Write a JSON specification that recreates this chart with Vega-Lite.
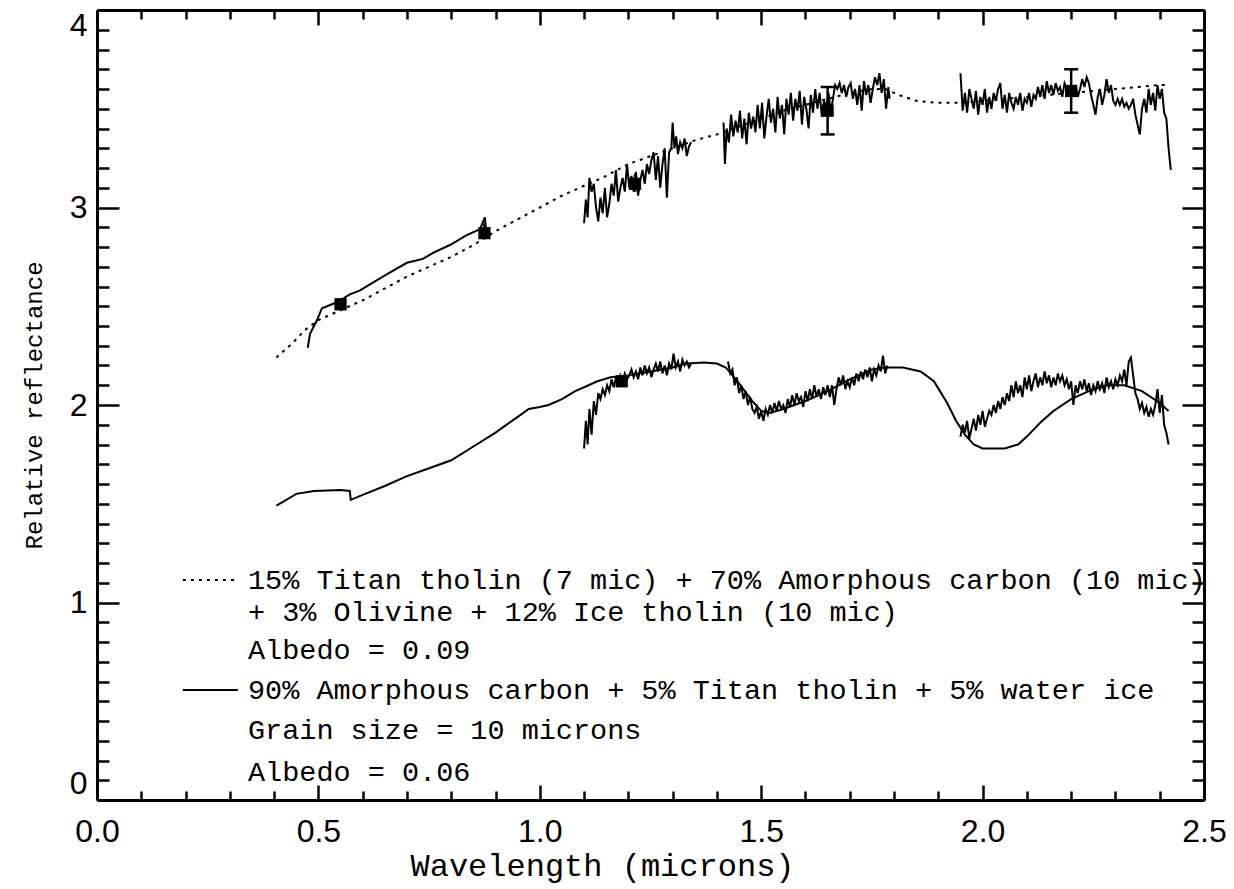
{
"$schema": "https://vega.github.io/schema/vega-lite/v6.json",
"width": 1107, "height": 790,
"autosize": {"type": "none"},
"padding": {"left": 97, "top": 10, "right": 30, "bottom": 89},
"background": "white",
"config": {"view": {"stroke": null}},
"datasets": {
"model1": [
{"x":0.405,"y":2.24},{"x":0.44,"y":2.31},{"x":0.47,"y":2.38},{"x":0.5,"y":2.43},{"x":0.55,"y":2.48},{"x":0.6,"y":2.53},{"x":0.65,"y":2.59},{"x":0.7,"y":2.65},{"x":0.75,"y":2.7},{"x":0.8,"y":2.75},{"x":0.85,"y":2.81},{"x":0.9,"y":2.88},{"x":0.95,"y":2.94},{"x":1.0,"y":3.0},{"x":1.05,"y":3.06},{"x":1.1,"y":3.11},{"x":1.15,"y":3.16},{"x":1.2,"y":3.22},{"x":1.25,"y":3.26},{"x":1.3,"y":3.3},{"x":1.35,"y":3.34},{"x":1.4,"y":3.37},{"x":1.45,"y":3.41},{"x":1.5,"y":3.45},{"x":1.55,"y":3.49},{"x":1.6,"y":3.52},{"x":1.65,"y":3.55},{"x":1.7,"y":3.58},{"x":1.75,"y":3.6},{"x":1.78,"y":3.6},{"x":1.81,"y":3.57},{"x":1.85,"y":3.54},{"x":1.9,"y":3.53},{"x":1.95,"y":3.53},{"x":2.0,"y":3.54},{"x":2.05,"y":3.55},{"x":2.1,"y":3.56},{"x":2.15,"y":3.57},{"x":2.2,"y":3.58},{"x":2.25,"y":3.59},{"x":2.3,"y":3.6},{"x":2.35,"y":3.61},{"x":2.4,"y":3.62},{"x":2.42,"y":3.62}
],
"model2": [
{"x":0.405,"y":1.49},{"x":0.42,"y":1.51},{"x":0.45,"y":1.55},{"x":0.49,"y":1.565},{"x":0.55,"y":1.57},{"x":0.571,"y":1.565},{"x":0.573,"y":1.52},{"x":0.6,"y":1.545},{"x":0.65,"y":1.59},{"x":0.7,"y":1.64},{"x":0.75,"y":1.68},{"x":0.8,"y":1.72},{"x":0.85,"y":1.79},{"x":0.9,"y":1.86},{"x":0.95,"y":1.94},{"x":0.975,"y":1.98},{"x":1.0,"y":1.99},{"x":1.02,"y":2.0},{"x":1.05,"y":2.03},{"x":1.08,"y":2.07},{"x":1.1,"y":2.09},{"x":1.13,"y":2.12},{"x":1.16,"y":2.14},{"x":1.2,"y":2.15},{"x":1.25,"y":2.17},{"x":1.3,"y":2.19},{"x":1.33,"y":2.21},{"x":1.37,"y":2.215},{"x":1.4,"y":2.21},{"x":1.42,"y":2.19},{"x":1.45,"y":2.11},{"x":1.48,"y":2.02},{"x":1.5,"y":1.97},{"x":1.52,"y":1.96},{"x":1.55,"y":1.98},{"x":1.6,"y":2.02},{"x":1.65,"y":2.07},{"x":1.7,"y":2.13},{"x":1.75,"y":2.18},{"x":1.78,"y":2.19},{"x":1.82,"y":2.19},{"x":1.86,"y":2.17},{"x":1.89,"y":2.12},{"x":1.92,"y":2.01},{"x":1.94,"y":1.92},{"x":1.96,"y":1.85},{"x":1.98,"y":1.8},{"x":2.0,"y":1.78},{"x":2.05,"y":1.78},{"x":2.08,"y":1.8},{"x":2.1,"y":1.84},{"x":2.13,"y":1.91},{"x":2.16,"y":1.97},{"x":2.2,"y":2.03},{"x":2.24,"y":2.07},{"x":2.28,"y":2.1},{"x":2.32,"y":2.1},{"x":2.36,"y":2.07},{"x":2.4,"y":2.01},{"x":2.42,"y":1.97}
],
"top": [
{"s":"a","x":0.476,"y":2.29},{"s":"a","x":0.481,"y":2.36},{"s":"a","x":0.497,"y":2.43},{"s":"a","x":0.508,"y":2.49},{"s":"a","x":0.542,"y":2.52},{"s":"a","x":0.571,"y":2.56},{"s":"a","x":0.594,"y":2.58},{"s":"a","x":0.623,"y":2.62},{"s":"a","x":0.661,"y":2.67},{"s":"a","x":0.7,"y":2.72},{"s":"a","x":0.736,"y":2.74},{"s":"a","x":0.759,"y":2.77},{"s":"a","x":0.797,"y":2.81},{"s":"a","x":0.835,"y":2.86},{"s":"a","x":0.865,"y":2.89},{"s":"a","x":0.876,"y":2.95},{"s":"a","x":0.88,"y":2.85},
{"s":"b","x":1.1,"y":2.92},{"s":"b","x":1.104,"y":3.04},{"s":"b","x":1.108,"y":2.95},{"s":"b","x":1.112,"y":3.15},{"s":"b","x":1.117,"y":3.08},{"s":"b","x":1.122,"y":3.12},{"s":"b","x":1.127,"y":3.0},{"s":"b","x":1.132,"y":2.93},{"s":"b","x":1.137,"y":3.05},{"s":"b","x":1.142,"y":2.97},{"s":"b","x":1.147,"y":3.1},{"s":"b","x":1.152,"y":2.95},{"s":"b","x":1.157,"y":3.02},{"s":"b","x":1.162,"y":3.12},{"s":"b","x":1.167,"y":3.06},{"s":"b","x":1.172,"y":3.19},{"s":"b","x":1.177,"y":3.03},{"s":"b","x":1.182,"y":3.1},{"s":"b","x":1.187,"y":3.15},{"s":"b","x":1.192,"y":3.08},{"s":"b","x":1.197,"y":3.22},{"s":"b","x":1.202,"y":3.1},{"s":"b","x":1.207,"y":3.16},{"s":"b","x":1.212,"y":3.08},{"s":"b","x":1.217,"y":3.18},{"s":"b","x":1.222,"y":3.06},{"s":"b","x":1.227,"y":3.14},{"s":"b","x":1.232,"y":3.19},{"s":"b","x":1.237,"y":3.12},{"s":"b","x":1.242,"y":3.22},{"s":"b","x":1.247,"y":3.17},{"s":"b","x":1.252,"y":3.24},{"s":"b","x":1.257,"y":3.28},{"s":"b","x":1.262,"y":3.14},{"s":"b","x":1.267,"y":3.26},{"s":"b","x":1.272,"y":3.1},{"s":"b","x":1.277,"y":3.22},{"s":"b","x":1.282,"y":3.3},{"s":"b","x":1.287,"y":3.05},{"s":"b","x":1.292,"y":3.28},{"s":"b","x":1.297,"y":3.3},{"s":"b","x":1.3,"y":3.43},{"s":"b","x":1.304,"y":3.3},{"s":"b","x":1.308,"y":3.36},{"s":"b","x":1.312,"y":3.27},{"s":"b","x":1.317,"y":3.33},{"s":"b","x":1.322,"y":3.3},{"s":"b","x":1.327,"y":3.35},{"s":"b","x":1.332,"y":3.26},{"s":"b","x":1.337,"y":3.31},{"s":"b","x":1.342,"y":3.33},
{"s":"c","x":1.415,"y":3.43},{"s":"c","x":1.418,"y":3.22},{"s":"c","x":1.422,"y":3.4},{"s":"c","x":1.427,"y":3.33},{"s":"c","x":1.432,"y":3.47},{"s":"c","x":1.437,"y":3.36},{"s":"c","x":1.442,"y":3.44},{"s":"c","x":1.447,"y":3.38},{"s":"c","x":1.452,"y":3.49},{"s":"c","x":1.457,"y":3.35},{"s":"c","x":1.462,"y":3.45},{"s":"c","x":1.467,"y":3.32},{"s":"c","x":1.472,"y":3.48},{"s":"c","x":1.477,"y":3.4},{"s":"c","x":1.482,"y":3.46},{"s":"c","x":1.487,"y":3.38},{"s":"c","x":1.492,"y":3.52},{"s":"c","x":1.497,"y":3.4},{"s":"c","x":1.502,"y":3.53},{"s":"c","x":1.507,"y":3.35},{"s":"c","x":1.512,"y":3.46},{"s":"c","x":1.517,"y":3.55},{"s":"c","x":1.522,"y":3.43},{"s":"c","x":1.527,"y":3.5},{"s":"c","x":1.532,"y":3.38},{"s":"c","x":1.537,"y":3.56},{"s":"c","x":1.542,"y":3.45},{"s":"c","x":1.547,"y":3.52},{"s":"c","x":1.552,"y":3.37},{"s":"c","x":1.557,"y":3.55},{"s":"c","x":1.562,"y":3.47},{"s":"c","x":1.567,"y":3.58},{"s":"c","x":1.572,"y":3.44},{"s":"c","x":1.577,"y":3.55},{"s":"c","x":1.582,"y":3.49},{"s":"c","x":1.587,"y":3.59},{"s":"c","x":1.592,"y":3.42},{"s":"c","x":1.597,"y":3.56},{"s":"c","x":1.602,"y":3.5},{"s":"c","x":1.607,"y":3.4},{"s":"c","x":1.612,"y":3.57},{"s":"c","x":1.617,"y":3.48},{"s":"c","x":1.622,"y":3.6},{"s":"c","x":1.627,"y":3.5},{"s":"c","x":1.632,"y":3.58},{"s":"c","x":1.637,"y":3.46},{"s":"c","x":1.642,"y":3.54},{"s":"c","x":1.647,"y":3.5},{"s":"c","x":1.652,"y":3.58},{"s":"c","x":1.657,"y":3.48},{"s":"c","x":1.662,"y":3.55},{"s":"c","x":1.667,"y":3.62},{"s":"c","x":1.672,"y":3.6},{"s":"c","x":1.677,"y":3.63},{"s":"c","x":1.682,"y":3.58},{"s":"c","x":1.687,"y":3.62},{"s":"c","x":1.692,"y":3.56},{"s":"c","x":1.697,"y":3.61},{"s":"c","x":1.702,"y":3.63},{"s":"c","x":1.707,"y":3.55},{"s":"c","x":1.712,"y":3.6},{"s":"c","x":1.717,"y":3.52},{"s":"c","x":1.722,"y":3.62},{"s":"c","x":1.727,"y":3.49},{"s":"c","x":1.732,"y":3.64},{"s":"c","x":1.737,"y":3.57},{"s":"c","x":1.742,"y":3.62},{"s":"c","x":1.747,"y":3.53},{"s":"c","x":1.752,"y":3.6},{"s":"c","x":1.757,"y":3.66},{"s":"c","x":1.762,"y":3.62},{"s":"c","x":1.767,"y":3.68},{"s":"c","x":1.772,"y":3.58},{"s":"c","x":1.777,"y":3.65},{"s":"c","x":1.782,"y":3.5},{"s":"c","x":1.787,"y":3.61},{"s":"c","x":1.79,"y":3.55},
{"s":"d","x":1.95,"y":3.68},{"s":"d","x":1.955,"y":3.49},{"s":"d","x":1.96,"y":3.58},{"s":"d","x":1.965,"y":3.48},{"s":"d","x":1.97,"y":3.6},{"s":"d","x":1.975,"y":3.55},{"s":"d","x":1.98,"y":3.5},{"s":"d","x":1.985,"y":3.59},{"s":"d","x":1.99,"y":3.47},{"s":"d","x":1.995,"y":3.56},{"s":"d","x":2.0,"y":3.52},{"s":"d","x":2.005,"y":3.6},{"s":"d","x":2.01,"y":3.48},{"s":"d","x":2.015,"y":3.56},{"s":"d","x":2.02,"y":3.5},{"s":"d","x":2.025,"y":3.58},{"s":"d","x":2.03,"y":3.54},{"s":"d","x":2.035,"y":3.6},{"s":"d","x":2.04,"y":3.63},{"s":"d","x":2.045,"y":3.5},{"s":"d","x":2.05,"y":3.57},{"s":"d","x":2.055,"y":3.48},{"s":"d","x":2.06,"y":3.58},{"s":"d","x":2.065,"y":3.53},{"s":"d","x":2.07,"y":3.5},{"s":"d","x":2.075,"y":3.56},{"s":"d","x":2.08,"y":3.52},{"s":"d","x":2.085,"y":3.58},{"s":"d","x":2.09,"y":3.49},{"s":"d","x":2.095,"y":3.55},{"s":"d","x":2.1,"y":3.53},{"s":"d","x":2.105,"y":3.58},{"s":"d","x":2.11,"y":3.51},{"s":"d","x":2.115,"y":3.57},{"s":"d","x":2.12,"y":3.55},{"s":"d","x":2.125,"y":3.61},{"s":"d","x":2.13,"y":3.56},{"s":"d","x":2.135,"y":3.62},{"s":"d","x":2.14,"y":3.55},{"s":"d","x":2.145,"y":3.64},{"s":"d","x":2.15,"y":3.58},{"s":"d","x":2.155,"y":3.62},{"s":"d","x":2.16,"y":3.57},{"s":"d","x":2.165,"y":3.63},{"s":"d","x":2.17,"y":3.59},{"s":"d","x":2.175,"y":3.61},{"s":"d","x":2.18,"y":3.56},{"s":"d","x":2.185,"y":3.63},{"s":"d","x":2.19,"y":3.6},{"s":"d","x":2.195,"y":3.58},{"s":"d","x":2.2,"y":3.62},{"s":"d","x":2.205,"y":3.58},{"s":"d","x":2.21,"y":3.62},{"s":"d","x":2.215,"y":3.56},{"s":"d","x":2.22,"y":3.6},{"s":"d","x":2.225,"y":3.65},{"s":"d","x":2.23,"y":3.61},{"s":"d","x":2.235,"y":3.66},{"s":"d","x":2.24,"y":3.63},{"s":"d","x":2.245,"y":3.57},{"s":"d","x":2.25,"y":3.52},{"s":"d","x":2.255,"y":3.47},{"s":"d","x":2.26,"y":3.56},{"s":"d","x":2.265,"y":3.6},{"s":"d","x":2.27,"y":3.52},{"s":"d","x":2.275,"y":3.57},{"s":"d","x":2.28,"y":3.65},{"s":"d","x":2.285,"y":3.58},{"s":"d","x":2.29,"y":3.62},{"s":"d","x":2.295,"y":3.54},{"s":"d","x":2.3,"y":3.52},{"s":"d","x":2.305,"y":3.55},{"s":"d","x":2.31,"y":3.52},{"s":"d","x":2.315,"y":3.55},{"s":"d","x":2.32,"y":3.51},{"s":"d","x":2.325,"y":3.53},{"s":"d","x":2.33,"y":3.5},{"s":"d","x":2.335,"y":3.52},{"s":"d","x":2.34,"y":3.55},{"s":"d","x":2.345,"y":3.47},{"s":"d","x":2.35,"y":3.42},{"s":"d","x":2.355,"y":3.37},{"s":"d","x":2.36,"y":3.5},{"s":"d","x":2.365,"y":3.55},{"s":"d","x":2.37,"y":3.48},{"s":"d","x":2.375,"y":3.6},{"s":"d","x":2.38,"y":3.52},{"s":"d","x":2.385,"y":3.58},{"s":"d","x":2.39,"y":3.49},{"s":"d","x":2.395,"y":3.62},{"s":"d","x":2.4,"y":3.55},{"s":"d","x":2.405,"y":3.6},{"s":"d","x":2.41,"y":3.48},{"s":"d","x":2.415,"y":3.45},{"s":"d","x":2.42,"y":3.3},{"s":"d","x":2.425,"y":3.19}
],
"bot": [
{"s":"b","x":1.1,"y":1.78},{"s":"b","x":1.104,"y":1.92},{"s":"b","x":1.108,"y":1.8},{"s":"b","x":1.112,"y":1.98},{"s":"b","x":1.117,"y":1.85},{"s":"b","x":1.122,"y":2.02},{"s":"b","x":1.127,"y":1.95},{"s":"b","x":1.132,"y":2.06},{"s":"b","x":1.137,"y":2.03},{"s":"b","x":1.142,"y":2.08},{"s":"b","x":1.147,"y":2.05},{"s":"b","x":1.152,"y":2.1},{"s":"b","x":1.157,"y":2.07},{"s":"b","x":1.162,"y":2.13},{"s":"b","x":1.167,"y":2.09},{"s":"b","x":1.172,"y":2.14},{"s":"b","x":1.177,"y":2.1},{"s":"b","x":1.182,"y":2.15},{"s":"b","x":1.187,"y":2.12},{"s":"b","x":1.192,"y":2.16},{"s":"b","x":1.197,"y":2.13},{"s":"b","x":1.202,"y":2.15},{"s":"b","x":1.207,"y":2.18},{"s":"b","x":1.212,"y":2.14},{"s":"b","x":1.217,"y":2.17},{"s":"b","x":1.222,"y":2.13},{"s":"b","x":1.227,"y":2.19},{"s":"b","x":1.232,"y":2.15},{"s":"b","x":1.237,"y":2.2},{"s":"b","x":1.242,"y":2.16},{"s":"b","x":1.247,"y":2.19},{"s":"b","x":1.252,"y":2.14},{"s":"b","x":1.257,"y":2.18},{"s":"b","x":1.262,"y":2.21},{"s":"b","x":1.267,"y":2.17},{"s":"b","x":1.272,"y":2.22},{"s":"b","x":1.277,"y":2.16},{"s":"b","x":1.282,"y":2.2},{"s":"b","x":1.287,"y":2.15},{"s":"b","x":1.292,"y":2.21},{"s":"b","x":1.297,"y":2.18},{"s":"b","x":1.302,"y":2.26},{"s":"b","x":1.307,"y":2.19},{"s":"b","x":1.312,"y":2.22},{"s":"b","x":1.317,"y":2.17},{"s":"b","x":1.322,"y":2.23},{"s":"b","x":1.327,"y":2.2},{"s":"b","x":1.332,"y":2.22},{"s":"b","x":1.337,"y":2.19},{"s":"b","x":1.342,"y":2.21},
{"s":"c","x":1.425,"y":2.22},{"s":"c","x":1.43,"y":2.16},{"s":"c","x":1.435,"y":2.18},{"s":"c","x":1.44,"y":2.1},{"s":"c","x":1.445,"y":2.14},{"s":"c","x":1.45,"y":2.06},{"s":"c","x":1.455,"y":2.1},{"s":"c","x":1.46,"y":2.03},{"s":"c","x":1.465,"y":2.07},{"s":"c","x":1.47,"y":2.0},{"s":"c","x":1.475,"y":2.04},{"s":"c","x":1.48,"y":1.98},{"s":"c","x":1.485,"y":1.96},{"s":"c","x":1.49,"y":1.99},{"s":"c","x":1.495,"y":1.93},{"s":"c","x":1.5,"y":1.97},{"s":"c","x":1.505,"y":1.92},{"s":"c","x":1.51,"y":1.98},{"s":"c","x":1.515,"y":1.95},{"s":"c","x":1.52,"y":2.0},{"s":"c","x":1.525,"y":1.96},{"s":"c","x":1.53,"y":2.01},{"s":"c","x":1.535,"y":1.97},{"s":"c","x":1.54,"y":2.02},{"s":"c","x":1.545,"y":1.98},{"s":"c","x":1.55,"y":2.0},{"s":"c","x":1.555,"y":1.96},{"s":"c","x":1.56,"y":2.03},{"s":"c","x":1.565,"y":1.99},{"s":"c","x":1.57,"y":2.05},{"s":"c","x":1.575,"y":2.0},{"s":"c","x":1.58,"y":2.06},{"s":"c","x":1.585,"y":2.02},{"s":"c","x":1.59,"y":2.04},{"s":"c","x":1.595,"y":1.99},{"s":"c","x":1.6,"y":2.07},{"s":"c","x":1.605,"y":2.02},{"s":"c","x":1.61,"y":2.08},{"s":"c","x":1.615,"y":2.03},{"s":"c","x":1.62,"y":2.1},{"s":"c","x":1.625,"y":2.04},{"s":"c","x":1.63,"y":2.08},{"s":"c","x":1.635,"y":2.03},{"s":"c","x":1.64,"y":2.09},{"s":"c","x":1.645,"y":2.05},{"s":"c","x":1.65,"y":2.1},{"s":"c","x":1.655,"y":2.04},{"s":"c","x":1.66,"y":2.1},{"s":"c","x":1.665,"y":2.0},{"s":"c","x":1.67,"y":2.08},{"s":"c","x":1.675,"y":2.14},{"s":"c","x":1.68,"y":2.1},{"s":"c","x":1.685,"y":2.15},{"s":"c","x":1.69,"y":2.08},{"s":"c","x":1.695,"y":2.12},{"s":"c","x":1.7,"y":2.09},{"s":"c","x":1.705,"y":2.14},{"s":"c","x":1.71,"y":2.1},{"s":"c","x":1.715,"y":2.16},{"s":"c","x":1.72,"y":2.12},{"s":"c","x":1.725,"y":2.17},{"s":"c","x":1.73,"y":2.13},{"s":"c","x":1.735,"y":2.18},{"s":"c","x":1.74,"y":2.14},{"s":"c","x":1.745,"y":2.19},{"s":"c","x":1.75,"y":2.12},{"s":"c","x":1.755,"y":2.18},{"s":"c","x":1.76,"y":2.15},{"s":"c","x":1.765,"y":2.2},{"s":"c","x":1.77,"y":2.17},{"s":"c","x":1.775,"y":2.25},{"s":"c","x":1.78,"y":2.16},{"s":"c","x":1.785,"y":2.2},
{"s":"d","x":1.95,"y":1.84},{"s":"d","x":1.955,"y":1.9},{"s":"d","x":1.96,"y":1.86},{"s":"d","x":1.965,"y":1.92},{"s":"d","x":1.97,"y":1.83},{"s":"d","x":1.975,"y":1.88},{"s":"d","x":1.98,"y":1.93},{"s":"d","x":1.985,"y":1.87},{"s":"d","x":1.99,"y":1.95},{"s":"d","x":1.995,"y":1.9},{"s":"d","x":2.0,"y":1.97},{"s":"d","x":2.005,"y":1.89},{"s":"d","x":2.01,"y":1.93},{"s":"d","x":2.015,"y":1.97},{"s":"d","x":2.02,"y":1.95},{"s":"d","x":2.025,"y":2.0},{"s":"d","x":2.03,"y":1.96},{"s":"d","x":2.035,"y":2.02},{"s":"d","x":2.04,"y":1.98},{"s":"d","x":2.045,"y":2.04},{"s":"d","x":2.05,"y":2.0},{"s":"d","x":2.055,"y":2.06},{"s":"d","x":2.06,"y":2.02},{"s":"d","x":2.065,"y":2.1},{"s":"d","x":2.07,"y":2.04},{"s":"d","x":2.075,"y":2.12},{"s":"d","x":2.08,"y":2.06},{"s":"d","x":2.085,"y":2.1},{"s":"d","x":2.09,"y":2.04},{"s":"d","x":2.095,"y":2.14},{"s":"d","x":2.1,"y":2.08},{"s":"d","x":2.105,"y":2.15},{"s":"d","x":2.11,"y":2.07},{"s":"d","x":2.115,"y":2.12},{"s":"d","x":2.12,"y":2.16},{"s":"d","x":2.125,"y":2.09},{"s":"d","x":2.13,"y":2.14},{"s":"d","x":2.135,"y":2.1},{"s":"d","x":2.14,"y":2.17},{"s":"d","x":2.145,"y":2.11},{"s":"d","x":2.15,"y":2.15},{"s":"d","x":2.155,"y":2.09},{"s":"d","x":2.16,"y":2.14},{"s":"d","x":2.165,"y":2.1},{"s":"d","x":2.17,"y":2.16},{"s":"d","x":2.175,"y":2.12},{"s":"d","x":2.18,"y":2.15},{"s":"d","x":2.185,"y":2.1},{"s":"d","x":2.19,"y":2.13},{"s":"d","x":2.195,"y":2.08},{"s":"d","x":2.2,"y":2.12},{"s":"d","x":2.205,"y":2.0},{"s":"d","x":2.21,"y":2.1},{"s":"d","x":2.215,"y":2.06},{"s":"d","x":2.22,"y":2.12},{"s":"d","x":2.225,"y":2.08},{"s":"d","x":2.23,"y":2.13},{"s":"d","x":2.235,"y":2.07},{"s":"d","x":2.24,"y":2.11},{"s":"d","x":2.245,"y":2.05},{"s":"d","x":2.25,"y":2.1},{"s":"d","x":2.255,"y":2.07},{"s":"d","x":2.26,"y":2.12},{"s":"d","x":2.265,"y":2.08},{"s":"d","x":2.27,"y":2.11},{"s":"d","x":2.275,"y":2.06},{"s":"d","x":2.28,"y":2.14},{"s":"d","x":2.285,"y":2.09},{"s":"d","x":2.29,"y":2.12},{"s":"d","x":2.295,"y":2.08},{"s":"d","x":2.3,"y":2.13},{"s":"d","x":2.305,"y":2.1},{"s":"d","x":2.31,"y":2.15},{"s":"d","x":2.315,"y":2.12},{"s":"d","x":2.32,"y":2.18},{"s":"d","x":2.325,"y":2.1},{"s":"d","x":2.33,"y":2.22},{"s":"d","x":2.335,"y":2.24},{"s":"d","x":2.34,"y":2.15},{"s":"d","x":2.345,"y":2.06},{"s":"d","x":2.35,"y":2.03},{"s":"d","x":2.355,"y":1.98},{"s":"d","x":2.36,"y":2.01},{"s":"d","x":2.365,"y":1.96},{"s":"d","x":2.37,"y":1.99},{"s":"d","x":2.375,"y":1.94},{"s":"d","x":2.38,"y":1.98},{"s":"d","x":2.385,"y":1.95},{"s":"d","x":2.39,"y":2.0},{"s":"d","x":2.395,"y":2.08},{"s":"d","x":2.4,"y":1.96},{"s":"d","x":2.405,"y":2.05},{"s":"d","x":2.41,"y":1.9},{"s":"d","x":2.415,"y":1.86},{"s":"d","x":2.42,"y":1.8}
],
"pts": [
{"x":0.55,"y":2.51,"lo":2.48,"hi":2.54,"cap":0},
{"x":0.875,"y":2.87,"lo":2.84,"hi":2.92,"cap":0},
{"x":1.215,"y":3.12,"lo":3.08,"hi":3.17,"cap":0},
{"x":1.65,"y":3.49,"lo":3.37,"hi":3.61,"cap":1},
{"x":2.2,"y":3.59,"lo":3.48,"hi":3.7,"cap":1},
{"x":1.185,"y":2.12,"lo":2.1,"hi":2.14,"cap":0}
],
"keys": [
{"k":"dot","x":0.194,"y":1.114},{"k":"dot","x":0.318,"y":1.114},
{"k":"solid","x":0.194,"y":0.557},{"k":"solid","x":0.318,"y":0.557}
],
"legend": [
{"x":0.341,"y":1.114,"t":"15% Titan tholin (7 mic) + 70% Amorphous carbon (10 mic)"},
{"x":0.341,"y":0.952,"t":"+ 3% Olivine + 12% Ice tholin (10 mic)"},
{"x":0.341,"y":0.759,"t":"Albedo = 0.09"},
{"x":0.341,"y":0.557,"t":"90% Amorphous carbon + 5% Titan tholin + 5% water ice"},
{"x":0.341,"y":0.354,"t":"Grain size = 10 microns"},
{"x":0.341,"y":0.142,"t":"Albedo = 0.06"}
]
},
"resolve": {"axis": {"x": "independent", "y": "independent"}},
"layer": [
{
"encoding": {
"x": {"field": "x", "type": "quantitative", "scale": {"domain": [0, 2.5], "nice": false, "zero": false},
 "axis": {"orient": "bottom", "title": "Wavelength (microns)", "grid": false,
  "values": [0,0.1,0.2,0.3,0.4,0.5,0.6,0.7,0.8,0.9,1,1.1,1.2,1.3,1.4,1.5,1.6,1.7,1.8,1.9,2,2.1,2.2,2.3,2.4,2.5],
  "labelExpr": "datum.value % 0.5 === 0 ? format(datum.value, '.1f') : ''",
  "tickSize": {"condition": {"test": "datum.value % 0.5 === 0", "value": -15}, "value": -9},
  "tickWidth": 2.5, "tickColor": "black", "domainColor": "black", "domainWidth": 3,
  "labelFont": "Liberation Sans", "labelFontSize": 32, "labelColor": "black", "labelPadding": 31, "labelOverlap": false, "labelFlush": false,
  "titleFont": "Liberation Mono", "titleFontSize": 32, "titleFontWeight": "normal", "titleColor": "black",
  "titleX": 505, "titleY": 65, "titleAlign": "center", "titleBaseline": "middle"}},
"y": {"field": "y", "type": "quantitative", "scale": {"domain": [0, 4], "nice": false, "zero": false},
 "axis": {"orient": "left", "title": "Relative reflectance", "grid": false,
  "values": [0,0.1,0.2,0.3,0.4,0.5,0.6,0.7,0.8,0.9,1,1.1,1.2,1.3,1.4,1.5,1.6,1.7,1.8,1.9,2,2.1,2.2,2.3,2.4,2.5,2.6,2.7,2.8,2.9,3,3.1,3.2,3.3,3.4,3.5,3.6,3.7,3.8,3.9,4],
  "labelExpr": "datum.value % 1 === 0 ? format(datum.value, 'd') : ''",
  "tickSize": {"condition": {"test": "datum.value % 1 === 0", "value": -22}, "value": -12},
  "tickWidth": 2.5, "tickColor": "black", "domainColor": "black", "domainWidth": 3,
  "labelFont": "Liberation Sans", "labelFontSize": 32, "labelColor": "black", "labelPadding": 32, "labelOverlap": false, "labelFlush": true,
  "titleFont": "Liberation Mono", "titleFontSize": 24, "titleFontWeight": "normal", "titleColor": "black", "titlePadding": 23}}
},
"layer": [
{"data": {"name": "model2"}, "mark": {"type": "line", "color": "black", "strokeWidth": 2}},
{"data": {"name": "model1"}, "mark": {"type": "line", "color": "black", "strokeWidth": 2, "strokeDash": [3, 5]}},
{"data": {"name": "top"}, "mark": {"type": "line", "color": "black", "strokeWidth": 2}, "encoding": {"detail": {"field": "s"}}},
{"data": {"name": "bot"}, "mark": {"type": "line", "color": "black", "strokeWidth": 2}, "encoding": {"detail": {"field": "s"}}},
{"data": {"name": "pts"}, "mark": {"type": "rule", "color": "black", "strokeWidth": 2.5}, "encoding": {"y": {"field": "lo", "type": "quantitative"}, "y2": {"field": "hi"}}},
{"data": {"name": "pts"}, "transform": [{"filter": "datum.cap === 1"}], "mark": {"type": "tick", "orient": "horizontal", "color": "black", "size": 14, "thickness": 2.5, "opacity": 1}, "encoding": {"y": {"field": "lo", "type": "quantitative"}}},
{"data": {"name": "pts"}, "transform": [{"filter": "datum.cap === 1"}], "mark": {"type": "tick", "orient": "horizontal", "color": "black", "size": 14, "thickness": 2.5, "opacity": 1}, "encoding": {"y": {"field": "hi", "type": "quantitative"}}},
{"data": {"name": "pts"}, "mark": {"type": "point", "shape": "square", "filled": true, "color": "black", "size": 150, "opacity": 1}},
{"data": {"name": "keys"}, "transform": [{"filter": "datum.k === 'dot'"}], "mark": {"type": "line", "color": "black", "strokeWidth": 2, "strokeDash": [3, 5]}},
{"data": {"name": "keys"}, "transform": [{"filter": "datum.k === 'solid'"}], "mark": {"type": "line", "color": "black", "strokeWidth": 2}},
{"data": {"name": "legend"}, "mark": {"type": "text", "align": "left", "baseline": "middle", "font": "Liberation Mono", "fontSize": 28.5, "color": "black"}, "encoding": {"text": {"field": "t"}}}
]
},
{
"data": {"name": "pts"},
"mark": {"type": "point", "opacity": 0},
"encoding": {
"x": {"field": "x", "type": "quantitative", "scale": {"domain": [0, 2.5], "nice": false, "zero": false},
 "axis": {"orient": "top", "title": null, "labels": false, "grid": false,
  "values": [0,0.1,0.2,0.3,0.4,0.5,0.6,0.7,0.8,0.9,1,1.1,1.2,1.3,1.4,1.5,1.6,1.7,1.8,1.9,2,2.1,2.2,2.3,2.4,2.5],
  "tickSize": {"condition": {"test": "datum.value % 0.5 === 0", "value": -15}, "value": -9},
  "tickWidth": 2.5, "tickColor": "black", "domainColor": "black", "domainWidth": 3}},
"y": {"field": "y", "type": "quantitative", "scale": {"domain": [0, 4], "nice": false, "zero": false},
 "axis": {"orient": "right", "title": null, "labels": false, "grid": false,
  "values": [0,0.1,0.2,0.3,0.4,0.5,0.6,0.7,0.8,0.9,1,1.1,1.2,1.3,1.4,1.5,1.6,1.7,1.8,1.9,2,2.1,2.2,2.3,2.4,2.5,2.6,2.7,2.8,2.9,3,3.1,3.2,3.3,3.4,3.5,3.6,3.7,3.8,3.9,4],
  "tickSize": {"condition": {"test": "datum.value % 1 === 0", "value": -22}, "value": -12},
  "tickWidth": 2.5, "tickColor": "black", "domainColor": "black", "domainWidth": 3}}
}
}
]
}
